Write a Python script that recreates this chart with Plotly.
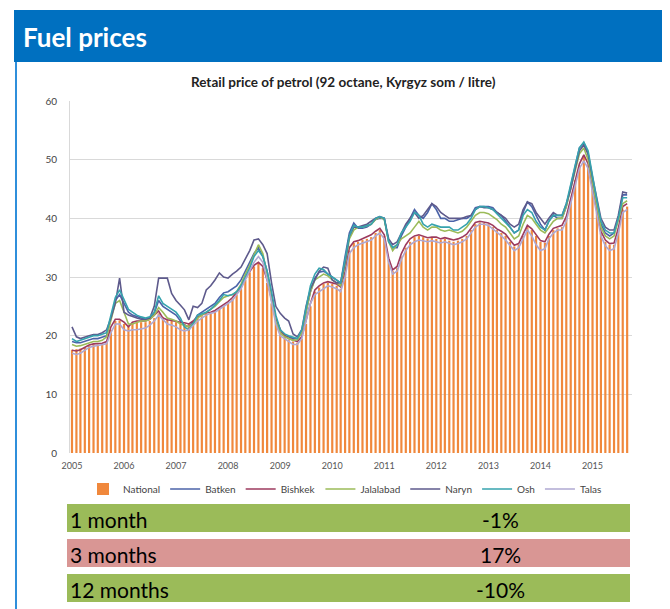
import pandas as pd
import plotly.graph_objects as go

# monthly retail petrol prices, Jan 2005 - Sep 2015 (som / litre)
national = [
    17.6, 17.7, 17.8, 18.0, 18.3, 18.5, 18.5, 18.6, 18.8, 21.0, 22.5, 22.6,
    22.0, 21.6, 22.0, 22.2, 22.3, 22.3, 22.5, 23.0, 23.8, 23.2, 22.7, 22.5,
    22.3, 22.1, 22.0, 22.0, 22.3, 23.0, 23.3, 23.8, 24.0, 24.2, 24.6, 25.0,
    25.5, 26.2, 27.0, 28.0, 29.5, 30.8, 31.8, 32.4, 31.5, 29.0, 25.5, 22.5,
    20.5, 19.8, 19.3, 19.0, 18.8, 19.5, 22.0, 25.0, 27.5, 28.2, 28.8, 29.0,
    28.8, 28.5, 28.0, 30.5, 34.5, 35.8, 36.0, 36.3, 36.5, 36.8, 37.5, 38.0,
    37.0, 33.0, 31.0, 31.5, 33.5, 35.0, 36.0, 36.8, 37.0, 36.8, 36.5, 36.7,
    36.5, 36.3, 36.5, 36.2, 36.0, 36.2, 36.5, 37.0, 38.0, 39.0, 39.3, 39.2,
    39.0, 38.5, 38.0, 37.5, 37.0, 36.0, 35.2, 35.5, 37.0, 38.5, 38.0, 37.0,
    36.0, 35.8, 37.0, 38.0, 38.3, 38.5, 40.0, 43.0, 46.5, 49.0, 50.5, 49.0,
    45.0, 41.0, 37.5, 36.0, 35.5, 35.5, 38.0, 41.5, 42.0,
]
batken = [
    19.0, 18.8, 18.8, 19.0, 19.3, 19.5, 19.5, 19.7, 20.0, 23.0, 26.0, 27.0,
    25.5, 24.0, 23.5, 23.2, 23.0, 22.8, 23.0, 23.8, 26.0, 25.0, 24.5, 24.0,
    23.5, 22.5, 21.8, 21.5, 22.3, 23.5, 24.0, 24.5, 25.0, 25.5, 26.5, 27.3,
    27.5, 28.0, 28.5, 29.5, 31.0, 32.5, 34.0, 35.0, 33.5, 31.0, 27.0, 23.0,
    21.0, 20.0, 19.8, 19.5, 19.5, 20.5, 24.0, 27.5, 29.8, 30.8, 31.0, 30.5,
    30.0, 29.5, 29.0, 33.5, 37.5, 39.2, 38.3, 38.3, 38.5, 39.0, 39.8, 40.0,
    40.0, 36.0, 35.0, 35.0, 37.0, 38.5, 40.0, 41.5, 40.5, 40.0, 41.0, 42.5,
    41.5, 40.0, 40.0, 39.5, 39.5, 39.8, 40.0, 40.0, 40.5, 41.8, 42.0, 42.0,
    42.0, 41.8, 41.0, 40.5, 39.5, 38.5, 37.5, 38.0, 41.0, 42.8, 42.0, 40.5,
    39.0, 38.0, 39.5, 40.6, 40.0, 40.0, 42.0, 45.5, 49.0, 52.0, 52.8, 51.0,
    46.5, 42.5, 39.0, 37.5, 37.0, 37.5, 40.0, 44.0, 44.0,
]
bishkek = [
    17.5, 17.4, 17.6, 18.0, 18.4, 18.6, 18.6, 18.7, 19.0, 21.5, 22.8, 22.8,
    22.3, 21.5, 22.3, 22.5, 22.5, 22.5, 22.8, 23.5, 24.2, 23.0, 22.7, 22.6,
    22.4, 22.3, 22.2, 22.0, 22.5, 23.2, 23.5, 23.9, 24.0, 24.3, 24.8, 25.3,
    25.8, 26.5, 27.3, 28.3, 29.8, 31.0, 32.0, 32.5, 31.8, 29.5, 26.0, 23.0,
    21.0, 20.0, 19.5, 19.2, 19.0, 19.8, 22.5, 25.5, 27.8, 28.5, 29.0, 29.2,
    29.0, 28.8, 28.3, 31.0, 35.0, 36.0, 36.2, 36.5, 36.8, 37.2, 37.8, 38.3,
    37.2, 33.2, 31.2, 31.8, 34.0, 35.5, 36.5, 37.0, 37.2, 37.0, 36.7, 36.8,
    36.8, 36.5, 36.7, 36.5, 36.3, 36.5, 36.8, 37.3, 38.3, 39.3, 39.5, 39.3,
    39.2, 38.8, 38.2, 37.8, 37.3, 36.3, 35.4, 35.7, 37.3, 38.8, 38.2, 37.2,
    36.2, 36.0, 37.3, 38.3, 38.6, 38.8, 40.3, 43.3, 46.8, 49.3, 50.8, 49.3,
    45.3, 41.3, 37.8, 36.3, 35.7, 35.8, 38.3, 42.0, 42.5,
]
jalalabad = [
    18.5, 18.2, 18.3, 18.5, 18.8, 19.0, 19.0, 19.2, 19.8, 22.5, 25.5, 26.0,
    24.0, 22.0, 22.0, 22.2, 22.5, 22.5, 22.8, 23.5, 24.8, 24.0, 23.0, 22.8,
    22.5, 22.0, 21.8, 21.5, 22.0, 23.0, 23.5, 24.0, 24.5, 25.0, 25.8, 26.5,
    26.8, 27.0, 27.5, 28.8, 30.5, 32.0, 33.8, 35.5, 34.0, 30.5, 26.0, 22.5,
    20.5, 19.8, 19.5, 19.2, 19.3, 20.5, 24.0, 27.5, 29.5, 30.0, 30.5, 30.2,
    29.5, 29.0, 28.5, 32.0, 36.5, 38.0, 38.5, 38.5, 38.8, 39.0, 39.8, 40.2,
    39.8, 36.0, 34.5, 35.5, 36.5, 37.0, 37.5, 38.5, 39.5, 38.5, 38.0, 38.5,
    38.5, 38.0, 37.8, 38.0, 37.8, 37.5, 37.8, 38.5, 39.5, 40.5, 41.0, 41.0,
    40.8, 40.3, 39.8, 39.0, 38.5, 37.5, 36.5, 37.0, 39.0, 40.5, 40.0, 39.0,
    38.0, 37.5, 38.5, 39.5, 40.0, 40.0, 42.0, 45.0, 48.5, 51.0, 52.0, 50.0,
    46.0, 42.0, 38.5, 37.0, 36.5, 37.0, 39.5, 42.5, 43.0,
]
naryn = [
    21.5, 19.8, 19.5, 19.8, 20.0, 20.2, 20.2, 20.5, 21.0, 23.0, 25.5, 29.8,
    24.0, 23.5, 23.2, 23.0, 22.8, 22.8, 23.0, 25.0, 29.8, 29.8, 29.8, 27.2,
    26.0, 25.2, 24.4, 22.7, 25.0, 24.8, 25.5, 27.8, 28.5, 29.5, 30.7, 30.0,
    29.8, 30.5, 31.0, 31.7, 33.0, 34.5, 36.3, 36.5, 35.5, 34.0, 29.0, 25.0,
    23.8, 23.0, 22.5, 20.3, 19.8, 21.0, 25.0, 28.0, 29.5, 31.0, 31.7, 31.5,
    29.5, 29.0, 29.0, 32.5, 37.0, 38.5, 38.5, 38.8, 39.0, 39.5, 40.0, 40.3,
    40.0, 36.5, 35.5, 36.0, 37.5, 39.0, 40.0, 41.0, 40.0, 40.5, 41.5, 42.5,
    42.0, 41.0, 40.5, 40.0, 40.0, 40.0, 40.0, 40.3, 40.5, 41.5, 42.0, 41.8,
    41.8, 41.5, 41.0, 40.5, 40.0, 39.0, 38.5, 39.0, 41.5, 42.8, 42.5, 41.0,
    40.0, 39.0, 40.0, 41.0, 40.5, 40.5, 42.5, 45.0, 48.5, 51.5, 52.5, 51.0,
    47.0, 43.0, 40.0, 38.5, 38.0, 38.0, 40.5, 44.5, 44.3,
]
osh = [
    19.5, 19.0, 19.2, 19.5, 19.8, 20.0, 20.0, 20.2, 20.5, 23.5, 26.5, 27.8,
    26.0, 24.5, 24.0, 23.5, 23.2, 23.0, 23.2, 24.0, 26.8, 25.5, 25.0, 24.5,
    24.0, 23.0, 21.5, 21.0, 22.0, 23.5, 23.8, 24.0, 24.5, 25.2, 26.0, 27.0,
    26.8, 27.0, 27.5, 28.5, 30.0, 31.5, 33.5, 34.5, 33.5, 31.0, 27.5, 23.5,
    21.0, 20.3, 20.0, 19.8, 19.5, 21.0, 25.0, 28.5, 30.5, 31.5, 31.3, 30.5,
    30.0, 29.5, 29.0, 33.0, 37.0, 38.8, 38.5, 38.5, 38.8, 39.0, 40.0, 40.3,
    40.0, 36.0, 35.0, 35.5, 37.5, 38.5, 39.5, 41.0, 40.5, 39.0, 38.5, 39.0,
    38.8, 38.5, 38.5, 38.5, 38.0, 38.0, 38.5, 39.0, 40.0, 41.5, 42.0, 42.0,
    41.8, 41.5, 40.8, 40.0, 39.3, 38.5, 37.5, 38.0, 40.5, 41.5, 41.0, 39.5,
    38.5, 38.0, 39.5, 40.5, 40.5, 40.5, 42.5, 45.5, 49.0, 52.0, 53.0, 51.5,
    47.0, 43.0, 39.5, 38.0, 37.5, 37.5, 40.0, 43.5, 43.5,
]
talas = [
    17.0, 16.8, 17.0, 17.5, 18.0, 18.2, 18.3, 18.4, 18.6, 20.5, 22.0, 22.0,
    21.0, 20.8, 21.0, 21.0, 21.2, 21.3, 21.8, 22.5, 23.5, 22.8, 22.0, 21.8,
    21.5, 21.0, 20.8, 21.0, 21.8, 22.5, 23.0, 23.5, 23.8, 24.0, 24.5, 25.0,
    25.5, 26.0, 27.0, 28.0, 29.5, 31.0, 32.5, 33.5, 32.5, 29.5, 25.5, 22.0,
    20.0, 19.5, 19.0, 18.5, 18.5, 19.5, 22.5, 25.5, 27.0, 27.5, 28.0, 28.5,
    28.3, 28.0, 27.5, 30.0, 34.0, 35.0, 35.5, 35.8, 36.0, 36.3, 37.0, 37.5,
    36.5, 32.5, 30.5, 31.0, 33.0, 34.5, 35.5, 36.0, 36.3, 36.2, 36.0, 36.2,
    36.0, 35.8, 36.0, 35.8, 35.5, 35.7, 36.0, 36.5, 37.5, 38.5, 39.0, 39.0,
    38.8, 38.2, 37.6, 37.0, 36.3, 35.3, 34.5, 35.0, 36.5, 38.0, 37.0, 35.5,
    34.5, 34.8, 36.5, 37.5, 38.0, 38.0, 39.5, 42.5, 46.0, 48.5, 49.8, 48.5,
    44.5, 40.5, 37.0, 35.3, 34.5, 34.8, 37.5, 41.0, 41.5,
]

months = pd.date_range("2005-01-01", periods=len(national), freq="MS")

change_periods = ["1 month", "3 months", "12 months"]
change_values = ["-1%", "17%", "-10%"]
change_colors = ["#9BBB59", "#D99694", "#9BBB59"]

regions = [
    ("Batken", batken, "#4B63A8"),
    ("Bishkek", bishkek, "#9C3A5E"),
    ("Jalalabad", jalalabad, "#9BBB59"),
    ("Naryn", naryn, "#5E5A8C"),
    ("Osh", osh, "#36A3AE"),
    ("Talas", talas, "#AFA8D2"),
]

# page has an 8px body margin, so the figure is 8px smaller than the window
OFF = 8
W, H = 670 - OFF, 609 - OFF
# plot area in page pixels
L, R, T, B = 70, 632, 101, 453
def px(x):
    return (x - L) / (R - L)
def py(y):
    return (B - y) / (B - T)

fig = go.Figure()
fig.add_trace(go.Bar(x=months, y=national, name="National",
                     marker=dict(color="#F0883C", line=dict(width=0))))
for name, vals, col in regions:
    fig.add_trace(go.Scatter(x=months, y=vals, name=name, mode="lines",
                             line=dict(color=col, width=1.6)))

shapes = [
    # header band
    dict(type="rect", xref="paper", yref="paper", x0=px(14), x1=px(680),
         y0=py(62), y1=py(10), fillcolor="#0070C0", line=dict(width=0), layer="below"),
    # left frame line
    dict(type="line", xref="paper", yref="paper", x0=px(16), x1=px(16),
         y0=py(62), y1=py(620), line=dict(color="#2F8FDB", width=2)),
]
annotations = [
    dict(text="<b>Fuel prices</b>", xref="paper", yref="paper", x=px(21), y=py(37),
         xanchor="left", yanchor="middle", showarrow=False,
         font=dict(family="Lato", size=26, color="white")),
    dict(text="<b>Retail price of petrol (92 octane, Kyrgyz som / litre)</b>",
         xref="paper", yref="paper", x=px(343), y=py(82), xanchor="center",
         yanchor="middle", showarrow=False,
         font=dict(family="Lato", size=13.5, color="#222222")),
]
row_tops = [504, 539, 574]
for top, per, val, col in zip(row_tops, change_periods, change_values, change_colors):
    shapes.append(dict(type="rect", xref="paper", yref="paper", x0=px(67), x1=px(630),
                       y0=py(top + 28), y1=py(top), fillcolor=col, line=dict(width=0)))
    annotations.append(dict(text=per, xref="paper", yref="paper", x=px(68), y=py(top + 15),
                            xanchor="left", yanchor="middle", showarrow=False,
                            font=dict(family="Lato", size=21, color="black")))
    annotations.append(dict(text=val, xref="paper", yref="paper", x=px(500), y=py(top + 15),
                            xanchor="center", yanchor="middle", showarrow=False,
                            font=dict(family="Lato", size=21, color="black")))

fig.update_layout(
    width=W, height=H,
    margin=dict(l=L - OFF, r=W - (R - OFF), t=T - OFF, b=H - (B - OFF), autoexpand=False),
    paper_bgcolor="white", plot_bgcolor="white",
    bargap=0.45, showlegend=True,
    legend=dict(orientation="h", x=px(345), y=py(489), xanchor="center", yanchor="middle",
                font=dict(family="Lato", size=10, color="#444444"),
                itemwidth=30, tracegroupgap=0),
    xaxis=dict(type="date", range=["2004-12-18", "2015-10-05"], tick0="2005-01-01",
               dtick="M12", tickformat="%Y", showgrid=False, ticks="",
               ticklabelstandoff=6,
               tickfont=dict(family="Lato", size=9, color="#555555"),
               showline=False, zeroline=False),
    yaxis=dict(range=[0, 60], dtick=10, showgrid=True, gridcolor="#D9D9D9",
               gridwidth=1, tickfont=dict(family="Lato", size=10, color="#444444"),
               showline=True, linecolor="#D9D9D9", zeroline=False, ticks="",
               ticklabelstandoff=10),
    shapes=shapes, annotations=annotations,
)

fig.write_html("out.html")
